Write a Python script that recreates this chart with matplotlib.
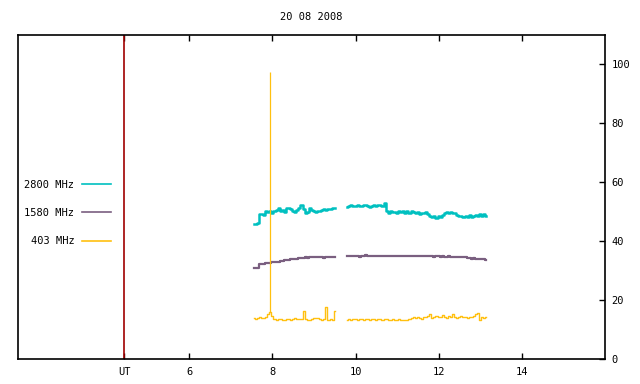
import numpy as np
import matplotlib
matplotlib.use("Agg")
import matplotlib.pyplot as plt

# sampling: one value every 0.05 h, two segments with a gap
step = 0.05
start_a = 7.55
start_b = 9.80

# 2800 MHz
f2800_a = [45.8, 46.0, 46.3, 49.2, 49.3, 49.0, 50.1, 49.8, 50.2, 49.7,
           50.4, 50.6, 51.2, 50.3, 50.5, 50.0, 51.4, 51.3, 50.9, 50.4,
           50.0, 50.5, 51.1, 52.3, 51.0, 49.5, 49.9, 51.4, 50.7, 50.1,
           49.9, 50.4, 50.1, 50.6, 50.8, 50.6, 51.0, 50.9, 51.3, 51.2]
f2800_b = [51.7, 51.9, 52.2, 51.8, 52.1, 52.3, 52.0, 51.8, 52.2, 52.4,
           52.1, 51.7, 52.0, 52.3, 51.9, 52.2, 52.4, 52.0, 52.9, 50.1,
           49.7, 50.3, 49.8, 50.0, 49.5, 50.2, 49.9, 50.4, 49.7, 50.1,
           49.6, 50.2, 49.9, 49.4, 49.8, 49.3, 49.7, 49.5, 49.9, 49.2,
           48.7, 48.2, 48.6, 47.9, 48.5, 48.3, 48.8, 49.4, 50.0, 49.7,
           49.9, 49.4, 49.6, 48.9, 48.4, 48.7, 48.1, 48.5, 48.3, 48.8,
           48.2, 48.6, 48.9, 48.5, 49.1, 48.6, 49.2, 48.7]

# 1580 MHz
f1580_a = [30.9, 30.8, 31.0, 32.2, 32.3, 32.4, 32.6, 32.5, 32.7, 32.9,
           33.0, 33.1, 33.0, 33.3, 33.2, 33.5, 33.6, 33.5, 33.8, 33.9,
           34.0, 34.1, 34.3, 34.2, 34.4, 34.5, 34.4, 34.6, 34.5, 34.7,
           34.6, 34.5, 34.7, 34.6, 34.3, 34.6, 34.7, 34.5, 34.6, 34.7]
f1580_b = [35.1, 35.0, 34.9, 35.1, 34.8, 34.9, 34.7, 35.0, 35.1, 35.2,
           35.1, 35.0, 35.1, 35.0, 35.1, 35.0, 34.9, 35.0, 35.1, 35.0,
           35.0, 34.9, 35.0, 35.1, 35.0, 34.9, 35.0, 35.0, 34.9, 35.0,
           34.9, 34.9, 35.0, 34.8, 34.9, 34.9, 34.8, 34.9, 34.8, 34.8,
           34.9, 34.8, 34.7, 34.8, 34.8, 34.7, 34.8, 34.7, 34.7, 34.8,
           34.7, 34.6, 34.7, 34.7, 34.6, 34.7, 34.6, 34.5, 34.3, 34.2,
           34.1, 34.2, 34.0, 34.0, 33.9, 33.8, 33.8, 33.7]

# 403 MHz
f403_a = [13.8, 13.6, 13.9, 14.2, 13.9, 14.0, 14.4, 15.3, 15.8, 14.6,
          13.7, 13.4, 13.6, 13.5, 13.2, 13.3, 13.6, 13.5, 13.4, 13.6,
          13.8, 13.7, 13.5, 13.6, 16.4, 13.5, 13.4, 13.3, 13.5, 13.9,
          13.8, 13.9, 13.5, 13.4, 13.6, 17.6, 13.4, 13.5, 13.4, 16.4]
f403_b = [13.4, 13.5, 13.4, 13.6, 13.5, 13.4, 13.5, 13.6, 13.4, 13.5,
          13.5, 13.3, 13.5, 13.6, 13.4, 13.5, 13.5, 13.4, 13.6, 13.5,
          13.3, 13.4, 13.5, 13.4, 13.4, 13.5, 13.4, 13.3, 13.4, 13.4,
          13.5, 14.0, 14.1, 13.8, 14.2, 14.0, 13.7, 14.3, 14.1, 14.6,
          15.2, 14.0, 14.2, 14.6, 14.1, 14.3, 14.8, 14.2, 14.0, 14.5,
          14.1, 15.2, 14.3, 13.9, 14.2, 14.6, 14.1, 14.4, 14.0, 14.3,
          14.1, 14.7, 15.3, 15.6, 13.2, 14.2, 14.0, 14.1]
# single short burst at 403 MHz
burst_time = 7.93
burst_base = 15.8
burst_peak = 97.6

series = [("2800 MHz", f2800_a, f2800_b, "#00c0c0", 1.8),
          ("1580 MHz", f1580_a, f1580_b, "#7a5f80", 1.6),
          ("403 MHz", f403_a, f403_b, "#ffc010", 1.0)]

ut_pos = 4.434
xticks = [ut_pos, 6, 8, 10, 12, 14]
xlabels = ["UT", "6", "8", "10", "12", "14"]
yticks = [0, 20, 40, 60, 80, 100]

font = "DejaVu Sans Mono"
fs = 7.5

fig = plt.figure(figsize=(6.4, 3.84), dpi=100)
ax = fig.add_axes([0.0286, 0.0651, 0.9162, 0.8438])

def seg_x(start, vals):
    return start + step * np.arange(len(vals))

for name, a, b, col, lw in series:
    ax.plot(seg_x(start_a, a), a, color=col, lw=lw, label=name,
            drawstyle="steps-mid")
    ax.plot(seg_x(start_b, b), b, color=col, lw=lw, drawstyle="steps-mid")

ax.vlines(burst_time, burst_base, burst_peak, color="#ffc010", lw=0.9)

ax.axvline(ut_pos, color="#a00000", lw=1.2)

ax.set_xlim(1.88, 16.0)
ax.set_ylim(0, 110)

ax.set_xticks(xticks)
ax.set_xticklabels(xlabels, fontfamily=font, fontsize=fs)
ax.set_yticks(yticks)
ax.set_yticklabels([str(v) for v in yticks], fontfamily=font, fontsize=fs)
ax.yaxis.tick_right()
ax.tick_params(axis="x", direction="in", length=4, width=1, top=True,
               bottom=True, pad=6)
ax.tick_params(axis="y", direction="in", length=4, width=1, left=False,
               right=True, pad=5)
for s in ax.spines.values():
    s.set_linewidth(1.2)

ax.set_title("20 08 2008", fontfamily=font, fontsize=fs, pad=11)

leg = ax.legend(loc="center right", bbox_to_anchor=(0.158, 0.4506),
                markerfirst=False, frameon=False, borderaxespad=0,
                borderpad=0, handlelength=2.8, handletextpad=0.7,
                labelspacing=1.75, prop={"family": font, "size": fs})
for line in leg.get_lines():
    line.set_linewidth(1.2)
    line.set_drawstyle("default")

fig.savefig("out.png", dpi=100)
